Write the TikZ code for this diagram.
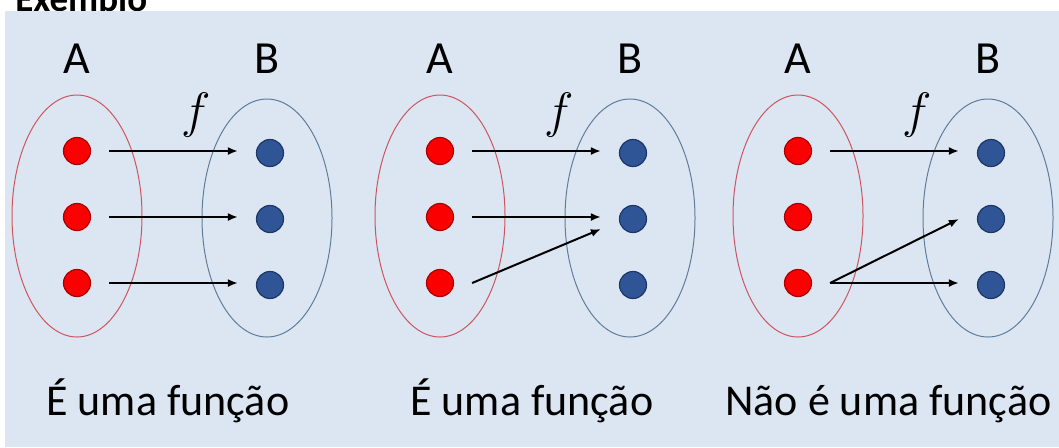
\documentclass[tikz,border=0pt]{standalone}
\usepackage{fontspec}
\setmainfont{Carlito}
\usepackage{tikz}
\usetikzlibrary{shapes.geometric, arrows.meta}

\definecolor{bgblue}{RGB}{220,230,242}
\definecolor{setred}{RGB}{205,85,95}
\definecolor{setblue}{RGB}{95,125,155}
\definecolor{dotred}{RGB}{250,0,0}
\definecolor{dotredline}{RGB}{170,0,0}
\definecolor{dotblue}{RGB}{47,85,151}
\definecolor{dotblueline}{RGB}{30,55,100}

\begin{document}
\begin{tikzpicture}[
  x=0.5pt, y=-0.5pt,
  setA/.style={draw=setred, line width=0.5pt, ellipse, minimum width=65pt, minimum height=121pt},
  setB/.style={draw=setblue, line width=0.5pt, ellipse, minimum width=65pt, minimum height=119pt},
  reddot/.style={circle, fill=dotred, draw=dotredline, line width=0.6pt, minimum size=13.5pt, inner sep=0pt},
  bluedot/.style={circle, fill=dotblue, draw=dotblueline, line width=0.6pt, minimum size=13.5pt, inner sep=0pt},
  setlabel/.style={anchor=base, inner sep=0pt, font=\fontsize{23}{25}\selectfont},
  caption/.style={anchor=base west, inner sep=0pt, font=\fontsize{22}{25}\selectfont},
  arr/.style={-{Latex[length=5pt, width=4pt]}, line width=1pt, black},
]
  \useasboundingbox (0,0) rectangle (1059,447);
  \node[anchor=base west, inner sep=0pt, font=\fontsize{18.5}{20}\selectfont\bfseries] (title) at (15,11) {Exemplo};
  \fill[bgblue] (5,11) rectangle (1059,447);

  % three panels: x of A, x of B
  \foreach \p/\ax/\bx in {1/77/267, 2/440/630, 3/798/988}{
    \node[setA] (A\p) at (\ax,216) {};
    \node[setB] (B\p) at (\bx,218) {};
    \node[setlabel] (la\p) at (\ax,73) {A};
    \node[setlabel] (lb\p) at (\bx,73) {B};
    \node[anchor=base, inner sep=0pt, font=\fontsize{24}{26}\selectfont] (f\p) at (\ax+119,127) {$f$};
    \foreach \i/\y in {1/151, 2/217, 3/283}{
      \node[reddot]  (r\p\i) at (\ax,\y) {};
      \node[bluedot] (b\p\i) at (\bx+3,\y+2) {};
    }
  }

  % panel 1
  \draw[arr] ([xshift=9pt]r11.east) -- ([xshift=-9pt]r11.east -| b11.west);
  \draw[arr] ([xshift=9pt]r12.east) -- ([xshift=-9pt]r12.east -| b12.west);
  \draw[arr] ([xshift=9pt]r13.east) -- ([xshift=-9pt]r13.east -| b13.west);
  % panel 2
  \draw[arr] ([xshift=9pt]r21.east) -- ([xshift=-9pt]r21.east -| b21.west);
  \draw[arr] ([xshift=9pt]r22.east) -- ([xshift=-9pt]r22.east -| b22.west);
  \draw[arr] ([xshift=9pt]r23.east) -- ([xshift=-9pt,yshift=-5pt]b22.west);
  % panel 3
  \draw[arr] ([xshift=9pt]r31.east) -- ([xshift=-9pt]r31.east -| b31.west);
  \draw[arr] ([xshift=9pt]r33.east) -- ([xshift=-9pt]b32.west);
  \draw[arr] ([xshift=9pt]r33.east) -- ([xshift=-9pt]r33.east -| b33.west);

  \node[caption] (c1) at (46,415)  {É uma função};
  \node[caption] (c2) at (410,415) {É uma função};
  \node[caption] (c3) at (725,415) {Não é uma função};
\end{tikzpicture}
\end{document}
